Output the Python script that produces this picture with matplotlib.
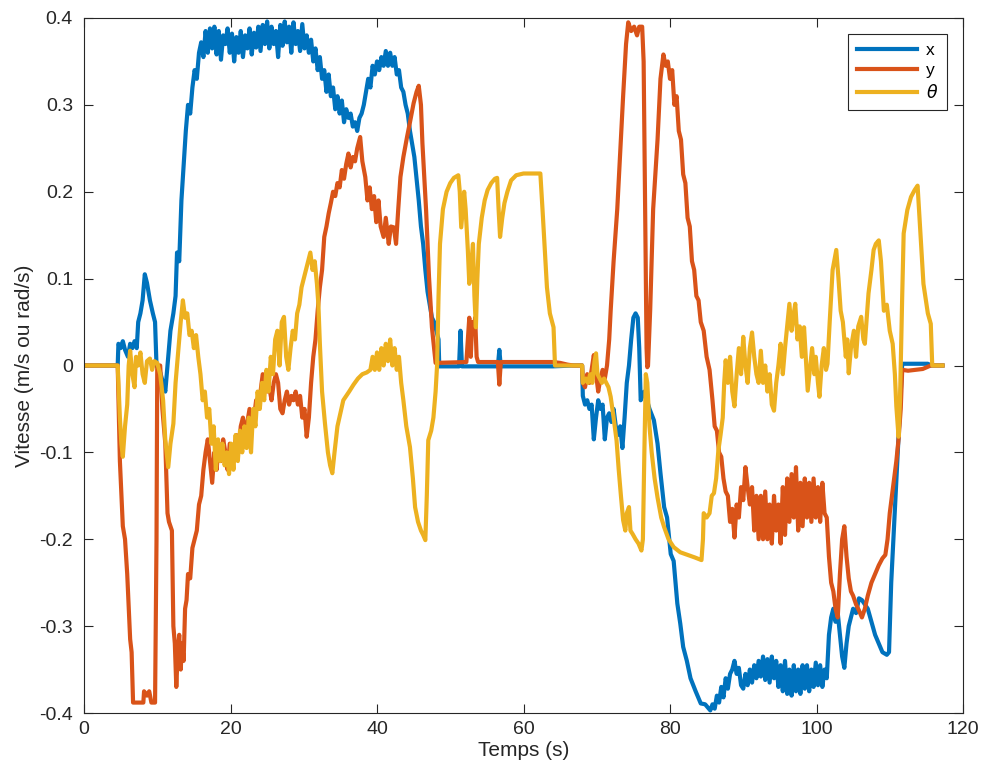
import matplotlib
matplotlib.use("Agg")
import matplotlib.pyplot as plt
import numpy as np

plt.rcParams['font.family'] = ['Liberation Sans', 'DejaVu Sans']
plt.rcParams['axes.unicode_minus'] = False

# ---- data (time s, value) ----
x_pts = [
    (0, 0), (4.6, 0), (4.7, 0.025), (5.0, 0.02), (5.3, 0.028), (5.6, 0.018), (6.0, 0.01),
    (6.3, 0.025), (6.6, 0.02), (6.9, 0.028), (7.2, 0.02), (7.4, 0.05), (7.7, 0.06),
    (8.0, 0.075), (8.3, 0.105), (8.6, 0.095), (9.0, 0.075), (9.4, 0.06), (9.7, 0.05),
    (9.9, 0.0), (10.3, -0.005), (10.8, -0.02), (11.1, -0.03), (11.4, 0.0), (11.8, 0.04),
    (12.2, 0.06), (12.5, 0.08), (12.7, 0.13), (13.0, 0.12), (13.3, 0.19), (13.6, 0.23),
    (13.9, 0.27), (14.2, 0.30), (14.5, 0.29), (14.8, 0.32), (15.1, 0.34), (15.4, 0.33),
    (15.7, 0.36), (16.0, 0.372), (16.3, 0.355), (16.6, 0.385), (16.9, 0.36), (17.2, 0.388),
    (17.5, 0.365), (17.8, 0.39), (18.1, 0.358), (18.4, 0.385), (18.7, 0.352), (19.0, 0.38),
    (19.3, 0.37), (19.6, 0.388), (19.9, 0.36), (20.2, 0.382), (20.5, 0.35), (20.8, 0.378),
    (21.1, 0.36), (21.4, 0.385), (21.7, 0.355), (22.0, 0.38), (22.3, 0.365), (22.6, 0.388),
    (22.9, 0.358), (23.2, 0.383), (23.5, 0.366), (23.8, 0.39), (24.1, 0.362), (24.4, 0.392),
    (24.7, 0.37), (25.0, 0.396), (25.3, 0.365), (25.6, 0.39), (25.9, 0.37), (26.2, 0.385),
    (26.5, 0.355), (26.8, 0.392), (27.1, 0.368), (27.4, 0.396), (27.7, 0.372), (28.0, 0.39),
    (28.3, 0.36), (28.6, 0.395), (28.9, 0.37), (29.2, 0.385), (29.5, 0.362), (29.8, 0.393),
    (30.1, 0.365), (30.4, 0.38), (30.7, 0.36), (31.0, 0.375), (31.3, 0.35), (31.6, 0.365),
    (31.9, 0.34), (32.2, 0.355), (32.5, 0.33), (32.8, 0.34), (33.1, 0.315), (33.4, 0.335),
    (33.7, 0.31), (34.0, 0.32), (34.3, 0.295), (34.6, 0.31), (34.9, 0.29), (35.2, 0.305),
    (35.5, 0.28), (35.8, 0.295), (36.1, 0.285), (36.4, 0.29), (36.7, 0.275), (37.0, 0.28),
    (37.3, 0.27), (37.6, 0.285), (37.9, 0.29), (38.2, 0.3), (38.5, 0.315), (38.8, 0.33),
    (39.1, 0.32), (39.4, 0.345), (39.7, 0.335), (40.0, 0.35), (40.3, 0.34), (40.6, 0.355),
    (40.9, 0.345), (41.2, 0.362), (41.5, 0.345), (41.8, 0.36), (42.1, 0.345), (42.4, 0.355),
    (42.7, 0.335), (43.0, 0.34), (43.3, 0.32), (43.6, 0.315), (43.9, 0.3), (44.2, 0.29),
    (44.5, 0.27), (44.8, 0.255), (45.1, 0.24), (45.4, 0.215), (45.7, 0.19), (46.0, 0.16),
    (46.3, 0.14), (46.6, 0.11), (46.9, 0.085), (47.2, 0.07), (47.5, 0.055), (47.8, 0.05),
    (48.1, 0.04), (48.4, 0.03), (48.5, -0.001), (51.2, -0.001), (51.4, 0.04), (51.6, -0.001),
    (56.5, -0.001), (56.7, 0.018), (56.9, -0.001), (64.0, -0.001), (66.8, 0.0), (68.0, 0.0),
    (68.1, -0.035), (68.4, -0.045), (68.7, -0.04), (69.0, -0.05), (69.3, -0.045),
    (69.6, -0.085), (69.9, -0.06), (70.2, -0.04), (70.5, -0.05), (70.8, -0.045),
    (71.1, -0.085), (71.4, -0.06), (71.7, -0.055), (72.0, -0.065), (72.3, -0.05),
    (72.6, -0.07), (72.9, -0.08), (73.2, -0.07), (73.5, -0.095), (73.8, -0.06), (74.1, -0.02),
    (74.4, 0.0), (74.7, 0.03), (75.0, 0.055), (75.3, 0.06), (75.6, 0.055), (75.8, 0.02),
    (76.0, -0.04), (76.5, -0.03), (77.2, -0.05), (77.8, -0.063), (78.3, -0.09),
    (78.7, -0.124), (79.2, -0.163), (79.6, -0.175), (80.1, -0.217), (80.5, -0.225),
    (81.0, -0.274), (81.4, -0.297), (81.8, -0.324), (82.3, -0.34), (82.8, -0.36),
    (83.5, -0.375), (84.2, -0.389), (84.8, -0.39), (85.5, -0.397), (85.8, -0.39),
    (86.1, -0.395), (86.4, -0.38), (86.7, -0.388), (87.0, -0.37), (87.3, -0.382),
    (87.6, -0.36), (87.9, -0.372), (88.2, -0.355), (88.5, -0.35), (88.8, -0.34),
    (89.1, -0.355), (89.4, -0.348), (89.7, -0.368), (90.0, -0.372), (90.3, -0.355),
    (90.6, -0.368), (90.9, -0.35), (91.2, -0.365), (91.5, -0.345), (91.8, -0.36),
    (92.1, -0.34), (92.4, -0.358), (92.7, -0.335), (93.0, -0.362), (93.3, -0.338),
    (93.6, -0.365), (93.9, -0.335), (94.2, -0.36), (94.5, -0.34), (94.8, -0.37),
    (95.1, -0.345), (95.4, -0.375), (95.7, -0.34), (96.0, -0.378), (96.3, -0.35),
    (96.6, -0.38), (96.9, -0.345), (97.2, -0.375), (97.5, -0.35), (97.8, -0.378),
    (98.1, -0.345), (98.4, -0.372), (98.7, -0.345), (99.0, -0.375), (99.3, -0.35),
    (99.6, -0.37), (99.9, -0.342), (100.2, -0.368), (100.5, -0.345), (100.8, -0.37),
    (101.1, -0.35), (101.4, -0.36), (101.7, -0.31), (102.0, -0.29), (102.3, -0.28),
    (102.6, -0.295), (102.9, -0.285), (103.2, -0.31), (103.5, -0.335), (103.8, -0.348),
    (104.1, -0.32), (104.4, -0.3), (104.7, -0.29), (105.0, -0.28), (105.4, -0.285),
    (105.8, -0.268), (106.2, -0.27), (106.6, -0.275), (107.0, -0.28), (107.5, -0.295),
    (108.0, -0.31), (108.5, -0.32), (109.0, -0.33), (109.6, -0.333), (109.9, -0.33),
    (110.2, -0.25), (110.5, -0.2), (110.8, -0.15), (111.1, -0.1), (111.4, -0.05),
    (111.7, 0.002), (115.2, 0.002), (115.6, 0.0), (117.2, 0.0),
]

y_pts = [
    (0, 0), (4.6, 0), (4.9, -0.11), (5.3, -0.185), (5.6, -0.2), (5.9, -0.24), (6.3, -0.315),
    (6.5, -0.33), (6.7, -0.388), (7.5, -0.388), (8.1, -0.388), (8.2, -0.375), (8.6, -0.38),
    (8.9, -0.375), (9.2, -0.388), (9.7, -0.388), (9.9, -0.2), (10.0, 0.0), (10.4, 0.0),
    (10.7, -0.05), (11.1, -0.09), (11.4, -0.17), (11.6, -0.18), (12.0, -0.19), (12.2, -0.3),
    (12.4, -0.32), (12.6, -0.37), (12.8, -0.33), (13.0, -0.31), (13.2, -0.35), (13.4, -0.32),
    (13.6, -0.34), (13.8, -0.28), (14.0, -0.27), (14.2, -0.24), (14.5, -0.245), (14.8, -0.21),
    (15.1, -0.2), (15.4, -0.19), (15.7, -0.16), (16.0, -0.15), (16.3, -0.12), (16.6, -0.1),
    (16.9, -0.085), (17.2, -0.11), (17.5, -0.135), (17.8, -0.1), (18.1, -0.12), (18.4, -0.09),
    (18.7, -0.11), (19.0, -0.085), (19.3, -0.1), (19.6, -0.12), (19.9, -0.09), (20.2, -0.118),
    (20.5, -0.095), (20.8, -0.08), (21.1, -0.1), (21.4, -0.07), (21.7, -0.06), (22.0, -0.08),
    (22.3, -0.065), (22.6, -0.05), (22.9, -0.07), (23.2, -0.06), (23.5, -0.04), (23.8, -0.05),
    (24.1, -0.03), (24.4, -0.01), (24.7, -0.015), (25.0, -0.03), (25.3, -0.025), (25.6, -0.04),
    (25.9, -0.02), (26.2, -0.01), (26.5, -0.02), (26.8, -0.05), (27.1, -0.055), (27.4, -0.04),
    (27.7, -0.03), (28.0, -0.045), (28.3, -0.035), (28.6, -0.04), (28.9, -0.03), (29.2, -0.045),
    (29.5, -0.035), (29.8, -0.06), (30.1, -0.05), (30.4, -0.082), (30.7, -0.06), (31.0, -0.02),
    (31.3, 0.01), (31.6, 0.03), (31.9, 0.063), (32.2, 0.09), (32.5, 0.11), (32.8, 0.148),
    (33.1, 0.16), (33.4, 0.175), (33.7, 0.187), (34.0, 0.2), (34.3, 0.195), (34.6, 0.21),
    (34.9, 0.205), (35.2, 0.225), (35.5, 0.215), (35.8, 0.232), (36.1, 0.244), (36.4, 0.228),
    (36.7, 0.24), (37.0, 0.235), (37.3, 0.25), (37.7, 0.263), (38.0, 0.235), (38.4, 0.217),
    (38.7, 0.19), (39.0, 0.205), (39.3, 0.18), (39.6, 0.195), (39.9, 0.165), (40.2, 0.19),
    (40.5, 0.16), (40.9, 0.148), (41.2, 0.17), (41.6, 0.14), (41.9, 0.16), (42.3, 0.159),
    (42.6, 0.14), (42.9, 0.18), (43.2, 0.217), (43.6, 0.24), (44.1, 0.263), (44.5, 0.28),
    (45.0, 0.302), (45.4, 0.315), (45.7, 0.322), (46.0, 0.3), (46.2, 0.256), (46.7, 0.179),
    (47.1, 0.102), (47.5, 0.044), (48.0, 0.003), (52.2, 0.004), (52.4, 0.03), (52.6, 0.055),
    (52.8, 0.01), (53.0, 0.05), (53.2, 0.04), (53.4, 0.055), (53.6, 0.01), (53.8, 0.004),
    (56.5, 0.004), (56.7, -0.022), (56.9, 0.004), (64.0, 0.004), (65.0, 0.003), (66.0, 0.001),
    (66.8, 0.0), (68.0, 0.0), (68.1, -0.02), (68.4, -0.025), (68.7, -0.01), (69.0, -0.02),
    (69.3, -0.005), (69.6, 0.012), (69.9, -0.01), (70.2, -0.03), (70.5, -0.015), (70.8, -0.005),
    (71.1, -0.015), (71.4, 0.0), (71.7, 0.03), (71.9, 0.063), (72.3, 0.12), (72.8, 0.18),
    (73.2, 0.245), (73.6, 0.31), (74.0, 0.37), (74.3, 0.395), (74.7, 0.385), (75.1, 0.39),
    (75.5, 0.38), (75.8, 0.39), (76.2, 0.39), (76.4, 0.35), (76.6, 0.18), (76.8, 0.02),
    (76.9, -0.002), (77.0, 0.0), (77.3, 0.065), (77.7, 0.18), (78.0, 0.22), (78.3, 0.26),
    (78.7, 0.33), (79.1, 0.358), (79.4, 0.345), (79.7, 0.35), (80.0, 0.33), (80.3, 0.34),
    (80.6, 0.3), (80.9, 0.31), (81.2, 0.27), (81.5, 0.26), (81.8, 0.22), (82.1, 0.21),
    (82.4, 0.17), (82.7, 0.16), (83.0, 0.12), (83.3, 0.11), (83.6, 0.08), (83.9, 0.075),
    (84.2, 0.05), (84.6, 0.04), (85.0, 0.01), (85.4, -0.005), (85.8, -0.04), (86.1, -0.07),
    (86.4, -0.075), (86.7, -0.1), (87.0, -0.105), (87.3, -0.13), (87.6, -0.145), (87.9, -0.15),
    (88.2, -0.18), (88.5, -0.165), (88.8, -0.198), (89.1, -0.16), (89.4, -0.175), (89.7, -0.14),
    (90.0, -0.155), (90.3, -0.117), (90.6, -0.14), (90.9, -0.16), (91.2, -0.14), (91.5, -0.19),
    (91.8, -0.15), (92.1, -0.2), (92.4, -0.15), (92.7, -0.2), (93.0, -0.145), (93.3, -0.2),
    (93.6, -0.16), (93.9, -0.205), (94.2, -0.15), (94.5, -0.19), (94.8, -0.16), (95.1, -0.205),
    (95.4, -0.14), (95.7, -0.195), (96.0, -0.13), (96.3, -0.18), (96.6, -0.125), (96.9, -0.175),
    (97.2, -0.117), (97.5, -0.19), (97.8, -0.135), (98.1, -0.185), (98.4, -0.13), (98.7, -0.175),
    (99.0, -0.135), (99.3, -0.18), (99.6, -0.13), (99.9, -0.175), (100.2, -0.14), (100.5, -0.18),
    (100.8, -0.135), (101.1, -0.17), (101.4, -0.175), (101.7, -0.22), (102.0, -0.25),
    (102.3, -0.26), (102.6, -0.28), (102.9, -0.29), (103.2, -0.24), (103.5, -0.2),
    (103.8, -0.185), (104.1, -0.22), (104.4, -0.245), (104.7, -0.26), (105.0, -0.265),
    (105.4, -0.275), (105.8, -0.282), (106.2, -0.29), (106.6, -0.28), (107.0, -0.265),
    (107.5, -0.25), (108.0, -0.24), (108.5, -0.23), (109.0, -0.222), (109.4, -0.218),
    (109.7, -0.2), (110.0, -0.17), (110.3, -0.15), (110.6, -0.13), (110.9, -0.11),
    (111.2, -0.085), (111.5, -0.05), (111.7, -0.005), (112.5, -0.006), (113.5, -0.005),
    (114.5, -0.004), (115.6, 0.0), (117.2, 0.0),
]

theta_pts = [
    (0, 0), (4.6, 0), (4.9, -0.06), (5.1, -0.09), (5.3, -0.105), (5.6, -0.07), (5.9, -0.045),
    (6.1, 0.0), (6.3, 0.017), (6.6, -0.01), (6.9, -0.025), (7.1, 0.01), (7.4, 0.0), (7.7, 0.015),
    (8.0, -0.01), (8.3, -0.02), (8.6, 0.005), (9.0, 0.008), (9.3, -0.005), (9.6, 0.005),
    (10.0, 0.003), (10.4, -0.01), (10.8, -0.04), (11.1, -0.086), (11.5, -0.117), (11.8, -0.09),
    (12.2, -0.067), (12.5, -0.02), (12.8, 0.01), (13.2, 0.05), (13.5, 0.075), (13.8, 0.055),
    (14.1, 0.06), (14.4, 0.035), (14.7, 0.04), (15.0, 0.02), (15.3, 0.035), (15.6, 0.01),
    (15.9, -0.01), (16.2, -0.04), (16.5, -0.03), (16.8, -0.06), (17.1, -0.05), (17.4, -0.09),
    (17.7, -0.07), (18.0, -0.12), (18.3, -0.085), (18.6, -0.11), (18.9, -0.09), (19.2, -0.115),
    (19.5, -0.1), (19.8, -0.125), (20.1, -0.09), (20.4, -0.12), (20.7, -0.08), (21.0, -0.11),
    (21.3, -0.075), (21.6, -0.1), (21.9, -0.07), (22.2, -0.095), (22.5, -0.06), (22.8, -0.1),
    (23.1, -0.05), (23.4, -0.07), (23.7, -0.03), (24.0, -0.05), (24.3, -0.02), (24.6, -0.04),
    (24.9, -0.005), (25.2, -0.03), (25.5, 0.01), (25.8, -0.01), (26.1, 0.03), (26.4, 0.04),
    (26.7, 0.0), (27.0, 0.05), (27.3, 0.056), (27.6, 0.01), (27.9, -0.005), (28.2, 0.02),
    (28.5, 0.04), (28.8, 0.03), (29.1, 0.06), (29.4, 0.07), (29.7, 0.09), (30.0, 0.1),
    (30.3, 0.11), (30.6, 0.12), (30.9, 0.13), (31.2, 0.11), (31.5, 0.12), (31.8, 0.094),
    (32.0, 0.07), (32.2, 0.025), (32.5, -0.03), (32.9, -0.067), (33.3, -0.1), (33.6, -0.115),
    (33.9, -0.124), (34.2, -0.1), (34.6, -0.07), (35.0, -0.055), (35.4, -0.04), (35.8, -0.035),
    (36.2, -0.03), (36.8, -0.022), (37.4, -0.015), (38.0, -0.01), (38.6, -0.008), (39.1, -0.005),
    (39.4, 0.01), (39.7, -0.005), (40.0, 0.015), (40.3, -0.005), (40.6, 0.02), (40.9, 0.0),
    (41.2, 0.025), (41.5, 0.005), (41.8, 0.03), (42.1, 0.0), (42.4, 0.02), (42.7, -0.005),
    (43.0, 0.01), (43.3, -0.02), (43.6, -0.04), (44.0, -0.07), (44.5, -0.094), (44.9, -0.13),
    (45.2, -0.163), (45.6, -0.18), (46.0, -0.19), (46.3, -0.195), (46.6, -0.201), (46.8, -0.15),
    (47.0, -0.086), (47.4, -0.075), (47.7, -0.06), (48.0, -0.03), (48.2, 0.0), (48.4, 0.08),
    (48.6, 0.14), (49.0, 0.18), (49.5, 0.2), (50.0, 0.21), (50.5, 0.216), (51.1, 0.219),
    (51.3, 0.2), (51.5, 0.159), (51.7, 0.18), (51.9, 0.2), (52.1, 0.18), (52.4, 0.133),
    (52.6, 0.094), (52.9, 0.12), (53.1, 0.14), (53.3, 0.08), (53.5, 0.044), (53.7, 0.1),
    (53.9, 0.14), (54.3, 0.17), (54.7, 0.19), (55.1, 0.202), (55.6, 0.21), (56.1, 0.215),
    (56.4, 0.216), (56.6, 0.18), (56.8, 0.148), (57.1, 0.17), (57.4, 0.187), (57.8, 0.2),
    (58.3, 0.213), (59.0, 0.219), (60.0, 0.221), (61.0, 0.221), (62.3, 0.221), (62.6, 0.179),
    (63.0, 0.12), (63.2, 0.09), (63.6, 0.06), (64.1, 0.044), (64.3, 0.0), (68.0, 0.0),
    (68.1, -0.02), (68.5, -0.015), (68.8, -0.02), (69.1, -0.01), (69.4, -0.02), (69.7, 0.005),
    (69.9, 0.014), (70.1, -0.01), (70.4, -0.015), (70.7, -0.02), (71.0, -0.015), (71.3, -0.02),
    (71.6, -0.025), (71.9, -0.036), (72.3, -0.06), (72.7, -0.086), (73.0, -0.12), (73.3, -0.15),
    (73.6, -0.178), (73.9, -0.19), (74.1, -0.17), (74.4, -0.163), (74.6, -0.19), (74.9, -0.194),
    (75.3, -0.2), (75.7, -0.205), (76.1, -0.213), (76.3, -0.2), (76.5, -0.1), (76.7, -0.01),
    (76.9, -0.02), (77.2, -0.07), (77.5, -0.1), (77.9, -0.13), (78.3, -0.152), (78.8, -0.175),
    (79.2, -0.186), (79.8, -0.2), (80.5, -0.209), (81.4, -0.215), (82.4, -0.218), (83.4, -0.221),
    (84.3, -0.224), (84.5, -0.2), (84.6, -0.17), (85.0, -0.175), (85.4, -0.17), (85.7, -0.15),
    (86.0, -0.147), (86.3, -0.13), (86.6, -0.098), (86.9, -0.08), (87.2, -0.06), (87.4, -0.02),
    (87.6, 0.006), (87.9, -0.02), (88.2, 0.01), (88.5, -0.03), (88.8, -0.047), (89.1, -0.01),
    (89.4, 0.02), (89.7, -0.01), (90.0, 0.033), (90.3, 0.0), (90.6, -0.02), (90.9, 0.02),
    (91.2, 0.038), (91.5, 0.01), (91.8, -0.01), (92.1, -0.02), (92.4, 0.017), (92.7, -0.02),
    (93.0, 0.0), (93.3, -0.03), (93.6, -0.01), (93.9, -0.045), (94.2, -0.052), (94.5, -0.02),
    (94.8, 0.0), (95.1, 0.025), (95.4, -0.01), (95.7, 0.02), (96.0, 0.045), (96.3, 0.071),
    (96.6, 0.04), (96.9, 0.06), (97.1, 0.071), (97.4, 0.03), (97.7, 0.045), (98.0, 0.01),
    (98.3, 0.044), (98.6, 0.0), (98.8, -0.029), (99.1, -0.005), (99.4, 0.02), (99.7, -0.01),
    (99.9, 0.01), (100.2, -0.02), (100.4, -0.036), (100.7, 0.0), (101.0, 0.02), (101.3, -0.005),
    (101.5, 0.002), (101.8, 0.05), (102.2, 0.11), (102.7, 0.133), (103.0, 0.1), (103.3, 0.063),
    (103.6, 0.05), (104.0, 0.01), (104.2, 0.03), (104.4, -0.009), (104.7, 0.02), (105.1, 0.04),
    (105.4, 0.01), (105.7, 0.045), (106.1, 0.056), (106.4, 0.03), (106.6, 0.025), (106.9, 0.06),
    (107.1, 0.083), (107.5, 0.11), (107.8, 0.133), (108.1, 0.14), (108.5, 0.144), (108.8, 0.12),
    (109.2, 0.063), (109.6, 0.07), (110.0, 0.04), (110.4, 0.025), (110.7, -0.01), (110.9, -0.047),
    (111.2, -0.082), (111.4, -0.04), (111.5, 0.0), (111.7, 0.08), (111.9, 0.152), (112.4, 0.179),
    (112.9, 0.194), (113.4, 0.202), (113.8, 0.207), (114.2, 0.15), (114.6, 0.094), (115.2, 0.06),
    (115.6, 0.048), (115.8, 0.0), (117.2, 0.0),
]

series_names = ['x', 'y', r'$\theta$']
series_colors = ['#0072BD', '#D95319', '#EDB120']
x_ticks = [0, 20, 40, 60, 80, 100, 120]
x_tick_labels = ['0', '20', '40', '60', '80', '100', '120']
y_ticks = [-0.4, -0.3, -0.2, -0.1, 0, 0.1, 0.2, 0.3, 0.4]
y_tick_labels = ['-0.4', '-0.3', '-0.2', '-0.1', '0', '0.1', '0.2', '0.3', '0.4']

fig = plt.figure(figsize=(9.85, 7.79), dpi=100)
ax = fig.add_axes([84 / 985, 1 - 713 / 779, (963 - 84) / 985, (713 - 18) / 779])

for pts, name, col in zip([x_pts, y_pts, theta_pts], series_names, series_colors):
    arr = np.array(pts)
    ax.plot(arr[:, 0], arr[:, 1], color=col, lw=3.0, label=name, solid_joinstyle='round')

ax.set_xlim(0, 120)
ax.set_ylim(-0.4, 0.4)
ax.set_xticks(x_ticks)
ax.set_xticklabels(x_tick_labels)
ax.set_yticks(y_ticks)
ax.set_yticklabels(y_tick_labels)

axcol = '#262626'
for s in ax.spines.values():
    s.set_color(axcol)
    s.set_linewidth(0.8)
ax.tick_params(direction='in', length=6.5, width=0.8, colors=axcol, labelsize=14,
               top=True, right=True)
ax.tick_params(axis='y', pad=8)
ax.tick_params(axis='x', pad=6)
ax.set_xlabel('Temps (s)', fontsize=15, color=axcol, labelpad=2)
ax.set_ylabel('Vitesse (m/s ou rad/s)', fontsize=15, color=axcol, labelpad=4)

leg = ax.legend(loc='upper right', bbox_to_anchor=((947 - 84) / 879, (713 - 34) / 695),
                borderaxespad=0, fontsize=12.5, handlelength=3.5, frameon=True,
                fancybox=False, framealpha=1, edgecolor='#262626', borderpad=0.5,
                labelspacing=0.3, handletextpad=0.5)
leg.get_frame().set_linewidth(0.8)

fig.savefig('out.png', dpi=100)
